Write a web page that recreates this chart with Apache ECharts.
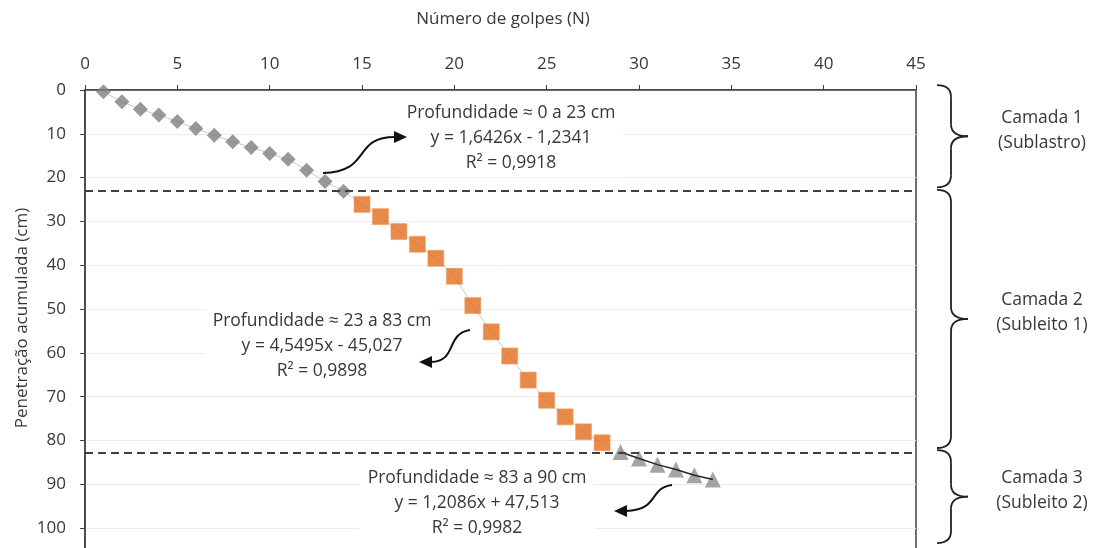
<!DOCTYPE html>
<html>
<head>
<meta charset="utf-8">
<script src="https://cdn.jsdelivr.net/npm/echarts@6/dist/echarts.min.js"></script>
<style>
html, body { margin: 0; padding: 0; background: #fff; overflow: hidden; }
#chart { width: 1094px; height: 600px; }
</style>
</head>
<body>
<div id="chart"></div>
<script>
// Camada 1 (losangos)
const golpes1 = [1, 2, 3, 4, 5, 6, 7, 8, 9, 10, 11, 12, 13, 14]
const penetracao1 = [0.4, 2.7, 4.4, 5.7, 7.2, 8.8, 10.3, 11.8, 13.1, 14.5, 15.8, 18.3, 20.9, 23.1]
// Camada 2 (quadrados)
const golpes2 = [15, 16, 17, 18, 19, 20, 21, 22, 23, 24, 25, 26, 27, 28]
const penetracao2 = [26.1, 28.9, 32.3, 35.2, 38.4, 42.5, 49.2, 55.2, 60.7, 66.2, 70.8, 74.6, 78.0, 80.5]
// Camada 3 (triangulos)
const golpes3 = [29, 30, 31, 32, 33, 34]
const penetracao3 = [82.6, 84.1, 85.5, 86.6, 87.9, 88.9]

// limites entre camadas (cm)
const limites = [23, 82.8]
// extensao de cada chave na direita (cm)
const chaves = [[-1.1, 22.2], [22.8, 81.7], [82.2, 103.4]]
const camadas = [['Camada 1', '(Sublastro)'], ['Camada 2', '(Subleito 1)'], ['Camada 3', '(Subleito 2)']]

const equacoes = [
  ['Profundidade ≈ 0 a 23 cm', 'y = 1,6426x - 1,2341', 'R² = 0,9918'],
  ['Profundidade ≈ 23 a 83 cm', 'y = 4,5495x - 45,027', 'R² = 0,9898'],
  ['Profundidade ≈ 83 a 90 cm', 'y = 1,2086x + 47,513', 'R² = 0,9982']
]

const toPairs = (xs, ys) => xs.map((x, i) => [x, ys[i]])
const FONT = '"Open Sans", sans-serif'
const TXT = '#383838'

const chart = echarts.init(document.getElementById('chart'))

chart.setOption({
  animation: false,
  backgroundColor: '#fff',
  grid: {
    left: 85, top: 90, width: 831, height: 482,
    show: true, borderColor: '#404040', borderWidth: 1.5
  },
  xAxis: {
    type: 'value', position: 'top', min: 0, max: 45, interval: 5,
    axisLine: { lineStyle: { color: '#404040', width: 1.5 } },
    axisTick: { show: true, length: 5, lineStyle: { color: '#404040' } },
    axisLabel: { color: TXT, fontSize: 17, fontFamily: FONT, margin: 17 },
    splitLine: { show: false }
  },
  yAxis: {
    type: 'value', inverse: true, min: 0, max: 110, interval: 10,
    axisLine: { lineStyle: { color: '#404040', width: 1.5 } },
    axisTick: { show: true, length: 5, lineStyle: { color: '#404040' } },
    axisLabel: { color: TXT, fontSize: 17, fontFamily: FONT, margin: 19 },
    splitLine: { lineStyle: { color: '#ececec', width: 1 } }
  },
  series: [
    {
      // linha fina ligando camadas 1 e 2
      type: 'line', symbol: 'none', silent: true, z: 2,
      data: toPairs(golpes1.concat(golpes2), penetracao1.concat(penetracao2)),
      lineStyle: { color: '#c8c8c8', width: 1 }
    },
    {
      type: 'scatter', symbol: 'diamond', symbolSize: 15, z: 3,
      data: toPairs(golpes1, penetracao1),
      itemStyle: { color: '#808080' },
      markLine: {
        silent: true, symbol: ['none', 'none'],
        label: { show: false },
        lineStyle: { type: [8, 5], color: '#404040', width: 1.8 },
        data: limites.map(v => ({ yAxis: v }))
      }
    },
    {
      type: 'scatter', symbol: 'rect', symbolSize: 16, z: 3,
      data: toPairs(golpes2, penetracao2),
      itemStyle: { color: '#e26d1d', borderColor: '#f0a060', borderWidth: 0.8 }
    },
    {
      type: 'scatter', symbol: 'triangle', symbolSize: 16, z: 3,
      data: toPairs(golpes3, penetracao3),
      itemStyle: { color: '#8e8e8e' }
    },
    {
      type: 'line', symbol: 'none', silent: true, z: 4,
      data: toPairs(golpes3, penetracao3),
      lineStyle: { color: '#262626', width: 1.5 }
    }
  ]
})

// ---- anotacoes (texto, setas, chaves) ----
const graphics = []

graphics.push({
  type: 'text', x: 503, y: 19, z: 10,
  style: { text: 'Número de golpes (N)', font: '17px ' + FONT, fill: TXT, align: 'center', verticalAlign: 'middle' }
})
graphics.push({
  type: 'text', x: 22, y: 318, rotation: Math.PI / 2, z: 10,
  style: { text: 'Penetração acumulada (cm)', font: '17px ' + FONT, fill: TXT, align: 'center', verticalAlign: 'middle' }
})

const caixas = [[511, 138], [322, 346], [477, 503]]
equacoes.forEach((linhas, i) => {
  graphics.push({
    type: 'text', x: caixas[i][0], y: caixas[i][1], z: 10,
    style: {
      text: linhas.join('\n'), font: '17.5px ' + FONT, fill: TXT, lineHeight: 25,
      align: 'center', verticalAlign: 'middle', backgroundColor: '#fff', padding: [2, 8]
    }
  })
})

// setas curvas
const setas = [
  { p: [323, 173, 372, 172, 352, 137, 395, 137], dir: 1, tip: [407, 137] },
  { p: [470, 330, 445, 334, 458, 361, 431, 362], dir: -1, tip: [419, 362] },
  { p: [672, 485, 648, 488, 660, 510, 626, 511], dir: -1, tip: [614, 511] }
]
setas.forEach(s => {
  const [x1, y1, c1x, c1y, c2x, c2y, x2, y2] = s.p
  graphics.push({
    type: 'bezierCurve', z: 11,
    shape: { x1, y1, cpx1: c1x, cpy1: c1y, cpx2: c2x, cpy2: c2y, x2, y2 },
    style: { stroke: '#111', lineWidth: 2, fill: null }
  })
  const [tx, ty] = s.tip
  graphics.push({
    type: 'polygon', z: 11,
    shape: { points: [[tx, ty], [tx - 13 * s.dir, ty - 6], [tx - 13 * s.dir, ty + 6]] },
    style: { fill: '#111' }
  })
})

// chaves a direita do grafico
const L = 937, M = 951, T = 968, r = 12
chaves.forEach((c, i) => {
  const y1 = chart.convertToPixel({ yAxisIndex: 0 }, c[0])
  const y2 = chart.convertToPixel({ yAxisIndex: 0 }, c[1])
  const ym = (y1 + y2) / 2
  const st = { stroke: '#222', lineWidth: 1.8, fill: null }
  graphics.push({ type: 'bezierCurve', shape: { x1: L, y1: y1, cpx1: M, cpy1: y1, x2: M, y2: y1 + r }, style: st })
  graphics.push({ type: 'line', shape: { x1: M, y1: y1 + r, x2: M, y2: ym - r }, style: st })
  graphics.push({ type: 'bezierCurve', shape: { x1: M, y1: ym - r, cpx1: M, cpy1: ym, x2: T, y2: ym }, style: st })
  graphics.push({ type: 'bezierCurve', shape: { x1: T, y1: ym, cpx1: M, cpy1: ym, x2: M, y2: ym + r }, style: st })
  graphics.push({ type: 'line', shape: { x1: M, y1: ym + r, x2: M, y2: y2 - r }, style: st })
  graphics.push({ type: 'bezierCurve', shape: { x1: M, y1: y2 - r, cpx1: M, cpy1: y2, x2: L, y2: y2 }, style: st })
  graphics.push({
    type: 'text', x: 1042, y: ym - 6,
    style: { text: camadas[i].join('\n'), font: '17.5px ' + FONT, fill: TXT, lineHeight: 25, align: 'center', verticalAlign: 'middle' }
  })
})

chart.setOption({ graphic: graphics })
</script>
</body>
</html>
